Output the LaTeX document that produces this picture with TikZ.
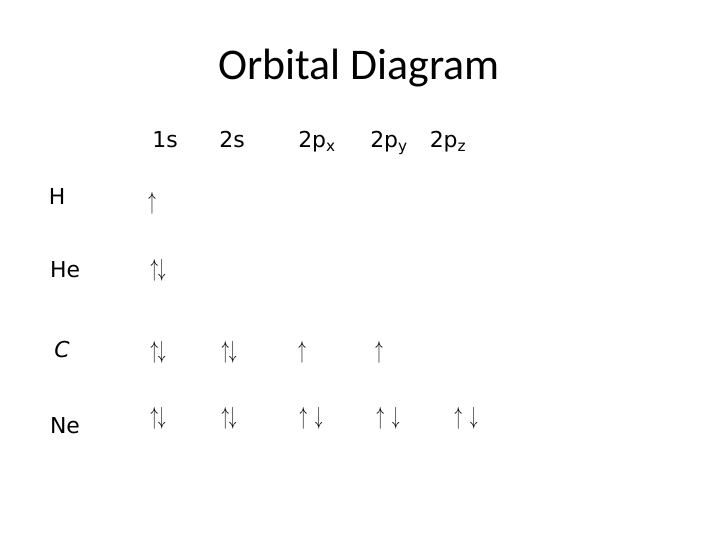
\documentclass[tikz,border=0pt]{standalone}
\usepackage{fontspec}
\setmainfont{DejaVu Sans}
\newfontfamily\titlefont{Carlito}
\usepackage{tikz}

\newcommand{\spinu}{\scalebox{0.6}[1]{$\uparrow$}}
\newcommand{\spind}{\scalebox{0.6}[1]{$\downarrow$}}

\tikzset{
	lbl/.style={font=\fontsize{22}{26}\selectfont, inner sep=0pt, anchor=base},
	spin/.style={font=\fontsize{32}{36}\selectfont, inner sep=0pt},
}

\begin{document}
\begin{tikzpicture}[x=1bp, y=-1bp]
	\useasboundingbox[fill=white] (0, 0) rectangle (720, 540);
	\node[font=\titlefont\fontsize{44}{52}\selectfont, inner sep=0pt, anchor=base] (title) at (359, 80) {Orbital Diagram};
	%%
	\node[lbl] (h1s) at (165, 148) {1s};
	\node[lbl] (h2s) at (232, 148) {2s};
	\node[lbl] (h2px) at (317, 148) {2p\textsubscript{x}};
	\node[lbl] (h2py) at (389, 148) {2p\textsubscript{y}};
	\node[lbl] (h2pz) at (448, 148) {2p\textsubscript{z}};
	%%
	\node[lbl] (lblH) at (57, 205) {H};
	\node[lbl] (lblHe) at (65, 278) {He};
	\node[lbl] (lblC) at (62, 357) {\itshape C};
	\node[lbl] (lblNe) at (65, 433) {Ne};
	%%
	\node[spin] (sH1s) at (152, 203) {\spinu};
	%%
	\node[spin] (sHe1s) at (158, 270) {\spinu\spind};
	%%
	\node[spin] (sC1s) at (158, 352) {\spinu\spind};
	\node[spin] (sC2s) at (229, 352) {\spinu\spind};
	\node[spin] (sC2px) at (302, 352) {\spinu};
	\node[spin] (sC2py) at (379, 352) {\spinu};
	%%
	\node[spin] (sNe1s) at (158, 418) {\spinu\spind};
	\node[spin] (sNe2s) at (229, 418) {\spinu\spind};
	\node[spin] (sNe2px) at (311, 418) {\spinu\hspace{8bp}\spind};
	\node[spin] (sNe2py) at (388, 418) {\spinu\hspace{8bp}\spind};
	\node[spin] (sNe2pz) at (466, 418) {\spinu\hspace{8bp}\spind};
\end{tikzpicture}
\end{document}
